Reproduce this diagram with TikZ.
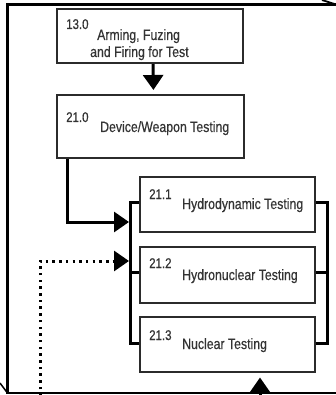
\documentclass[tikz,border=0pt]{standalone}
\usepackage{fontspec}
\setmainfont[FakeStretch=0.82,FakeBold=0.4]{Liberation Sans}
\usetikzlibrary{arrows.meta,calc}
\definecolor{boxline}{HTML}{2B2B2B}
\definecolor{txt}{HTML}{333333}
\begin{document}
\begin{tikzpicture}[x=1pt,y=-1pt,
  frame/.style={line width=2.5pt,black},
  boxn/.style={draw=boxline,line width=2pt,fill=white,inner sep=0pt},
  num/.style={anchor=base west,inner sep=0pt,text=txt,font=\fontsize{14}{14}\selectfont},
  ttl/.style={anchor=base west,inner sep=0pt,text=txt,font=\fontsize{15}{15}\selectfont},
  arr/.style={line width=3pt,black,-{Triangle[length=15pt,width=20pt]}},
  br/.style={line width=3pt,black},
  dotl/.style={line width=3pt,black,dash pattern=on 2.5pt off 4.2pt,-{Triangle[length=15pt,width=20pt]}}]
\useasboundingbox (0,0) rectangle (336,395);
% frame
\draw[frame] (336,4.5) -- (7.5,4.5) -- (7.5,393) -- (336,393);
\draw[line width=1.5pt] (0,383) -- (7.5,393);
\draw[line width=1.8pt] (322,0) .. controls (329,1.5) .. (336,4.5);
% boxes
\node[boxn,minimum width=186pt,minimum height=54pt] (n13) at (150,36) {};
\node[boxn,minimum width=187pt,minimum height=63pt] (n21) at (150.5,126.5) {};
\node[boxn,minimum width=175pt,minimum height=55pt] (n211) at (227.5,204.5) {};
\node[boxn,minimum width=175pt,minimum height=56pt] (n212) at (227.5,275) {};
\node[boxn,minimum width=175pt,minimum height=55pt] (n213) at (227.5,344.5) {};
% texts
\node[num] (t13n) at (66,29) {13.0};
\node[ttl] (t13a) at (97,40) {Arming, Fuzing};
\node[ttl] (t13b) at (90,57) {and Firing for Test};
\node[num] (t21n) at (66,122) {21.0};
\node[ttl] (t21) at (100,132) {Device/Weapon Testing};
\node[num] (t211n) at (149,199) {21.1};
\node[ttl] (t211) at (182,209) {Hydrodynamic Testing};
\node[num] (t212n) at (149,268) {21.2};
\node[ttl] (t212) at (182,280) {Hydronuclear Testing};
\node[num] (t213n) at (149,340) {21.3};
\node[ttl] (t213) at (182,349) {Nuclear Testing};
% brackets
\coordinate (bl1) at ($(n211.west)+(-9,-2.5)$);
\coordinate (bl3) at ($(n213.west)+(-9,-1.5)$);
\coordinate (br1) at ($(n211.east)+(11,-2.5)$);
\coordinate (br3) at ($(n213.east)+(11,-1.5)$);
\draw[br] ($(n211.west)+(0,-2.5)$) -- (bl1) -- (bl3) -- ($(n213.west)+(0,-1.5)$);
\draw[br] ($(n212.west)+(0,-3)$) -- ++(-9,0);
\draw[br] ($(n211.east)+(0,-2.5)$) -- (br1) -- (br3) -- ($(n213.east)+(0,-1.5)$);
\draw[br] ($(n212.east)+(0,-3)$) -- ++(11,0);
% connectors
\draw[arr,shorten >=4pt] ($(n13.south)+(3,0)$) -- ($(n21.north)+(3,0)$);
\coordinate (jA) at (131,222);
\draw[arr,shorten >=2pt] ($(n21.south west)+(11,0)$) |- (jA);
\coordinate (dS) at (40,396);
\coordinate (jD) at (131,261);
\draw[dotl,shorten >=2pt] (dS) |- (jD);
\coordinate (bS) at (260,396);
\draw[arr,shorten >=4.5pt] (bS) -- (bS |- n213.south);
\end{tikzpicture}
\end{document}
